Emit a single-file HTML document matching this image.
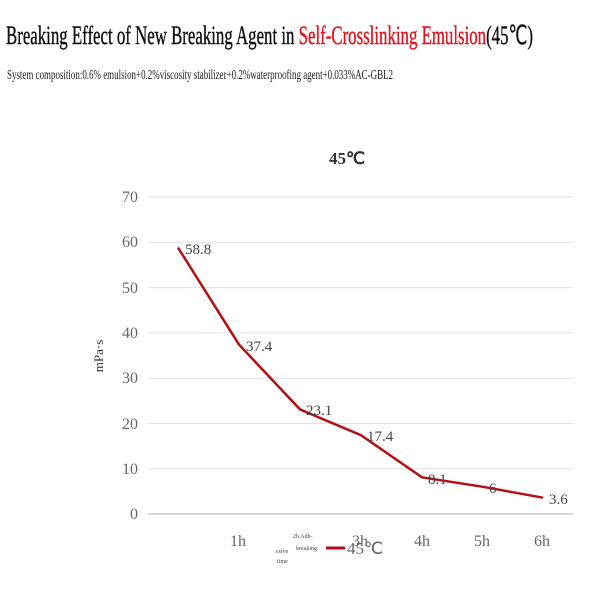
<!DOCTYPE html><html><head><style>body{margin:0;background:#fff;width:600px;height:600px;overflow:hidden;font-family:"Liberation Serif",serif}</style></head><body>
<svg width="600" height="600" xmlns="http://www.w3.org/2000/svg" font-family="Liberation Serif, serif">
<text x="6" y="44" font-size="26" fill="#111" stroke="#111" stroke-width="0.4" textLength="527" lengthAdjust="spacingAndGlyphs">Breaking Effect of New Breaking Agent in <tspan fill="#e0141e" stroke="#e0141e">Self-Crosslinking Emulsion</tspan>(45℃)</text>
<text x="7" y="79" font-size="14" fill="#222" textLength="386" lengthAdjust="spacingAndGlyphs">System composition:0.6% emulsion+0.2%viscosity stabilizer+0.2%waterproofing agent+0.033%AC-GBL2</text>
<text x="347" y="164" font-size="17" font-weight="bold" fill="#333" text-anchor="middle">45℃</text>
<g stroke="#e2e2e2" stroke-width="1">
<line x1="148" x2="573" y1="197" y2="197"/><line x1="148" x2="573" y1="242.3" y2="242.3"/><line x1="148" x2="573" y1="287.6" y2="287.6"/><line x1="148" x2="573" y1="332.9" y2="332.9"/><line x1="148" x2="573" y1="378.2" y2="378.2"/><line x1="148" x2="573" y1="423.5" y2="423.5"/><line x1="148" x2="573" y1="468.8" y2="468.8"/></g>
<line x1="148" x2="573" y1="514" y2="514" stroke="#ccc" stroke-width="1.5"/>
<g font-size="16" fill="#666" text-anchor="end">
<text x="138" y="202">70</text><text x="138" y="247">60</text><text x="138" y="293">50</text><text x="138" y="338">40</text><text x="138" y="383">30</text><text x="138" y="429">20</text><text x="138" y="474">10</text><text x="138" y="519">0</text></g>
<text transform="translate(103,356) rotate(-90)" font-size="13" fill="#333" text-anchor="middle">mPa·s</text>
<g font-size="16" fill="#666" text-anchor="middle">
<text x="238" y="546">1h</text><text x="360" y="546">3h</text><text x="422" y="546">4h</text><text x="482" y="546">5h</text><text x="542" y="546">6h</text></g>
<g font-size="6" fill="#444"><text x="293" y="538">2h Adh-</text><text x="296" y="550">breaking</text><text x="276" y="553">esive</text><text x="277" y="563">time</text></g>
<line x1="326" x2="345" y1="548" y2="548" stroke="#b30f15" stroke-width="3"/>
<text x="347" y="554" font-size="17" fill="#666">45℃</text>
<polyline fill="none" stroke="#b30f15" stroke-width="2.5" points="178,247.6 239,344.6 300,409.4 361,435.2 422,477.3 483,486.8 543,497.7"/>
<g font-size="15" fill="#444">
<text x="185" y="254">58.8</text><text x="246" y="351">37.4</text><text x="306" y="415">23.1</text><text x="367" y="441">17.4</text><text x="428" y="484">8.1</text><text x="489" y="493">6</text><text x="549" y="504">3.6</text></g>
</svg></body></html>
